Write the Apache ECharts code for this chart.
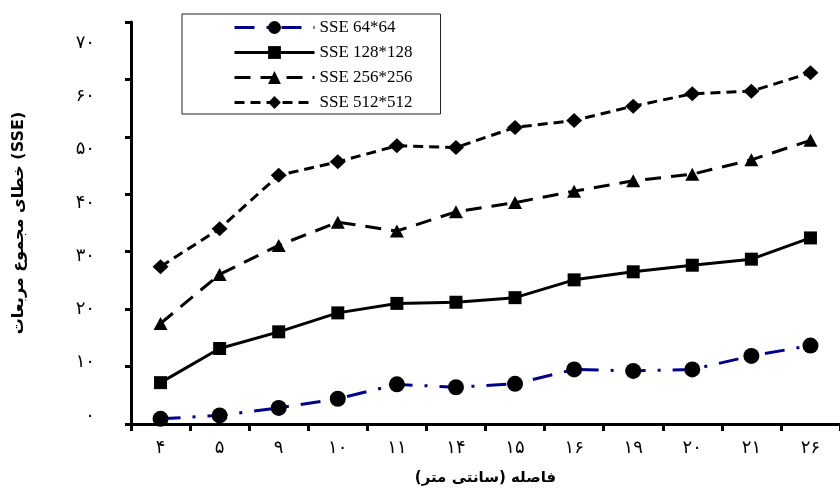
<!DOCTYPE html>
<html><head><meta charset="utf-8">
<script src="https://cdn.jsdelivr.net/npm/echarts@6/dist/echarts.min.js"></script>
<style>html,body{margin:0;padding:0;background:#fff}#c{width:840px;height:494px}</style>
</head><body><div id="c"></div>
<script>
const categories = ['۴','۵','۹','۱۰','۱۱','۱۴','۱۵','۱۶','۱۹','۲۰','۲۱','۲۶'];
const yTickLabels = ['۰','۱۰','۲۰','۳۰','۴۰','۵۰','۶۰','۷۰'];
const seriesNames = ['SSE 64*64','SSE 128*128','SSE 256*256','SSE 512*512'];
const sse64  = [0.9, 1.5, 2.8, 4.4, 6.9, 6.4, 7.0, 9.5, 9.25, 9.5, 11.85, 13.65];
const sse128 = [7.2, 13.15, 16.05, 19.35, 21.0, 21.2, 22.0, 25.1, 26.5, 27.65, 28.7, 32.4];
const sse256 = [17.5, 26.05, 31.1, 35.15, 33.6, 36.95, 38.55, 40.55, 42.35, 43.5, 46.0, 49.4];
const sse512 = [27.4, 34.0, 43.3, 45.65, 48.45, 48.15, 51.65, 52.85, 55.35, 57.5, 57.95, 61.15];
const xName = 'فاصله (سانتی متر)';
const yName = 'خطای مجموع مربعات (SSE)';

const chart = echarts.init(document.getElementById('c'), null, {renderer: 'canvas'});
const faFont = "'DejaVu Sans', sans-serif";
chart.setOption({
  animation: false,
  backgroundColor: '#fff',
  grid: [
    {left: 131, right: -9, top: 22, bottom: 70, containLabel: false},
    {left: 131, right: -9, top: 43, bottom: 78, containLabel: false}
  ],
  legend: {
    orient: 'vertical',
    left: 182, top: 14,
    padding: [5, 28, 3, 51],
    itemGap: 8,
    itemWidth: 80, itemHeight: 16,
    borderColor: '#222', borderWidth: 1,
    backgroundColor: '#fff',
    lineStyle: {width: 3},
    textStyle: {fontFamily: "'Liberation Serif', serif", fontSize: 17, color: '#000'},
    data: seriesNames
  },
  xAxis: [
    {
      type: 'category', gridIndex: 0, data: categories, boundaryGap: true,
      axisLine: {lineStyle: {color: '#000', width: 3}},
      axisTick: {show: true, length: 7, lineStyle: {color: '#000', width: 3}},
      axisLabel: {margin: 15, fontSize: 18, color: '#000', fontFamily: faFont},
      name: xName, nameLocation: 'middle', nameGap: 47,
      nameTextStyle: {fontSize: 15, fontWeight: 'bold', color: '#000', fontFamily: faFont}
    },
    {type: 'category', gridIndex: 1, data: categories, show: false}
  ],
  yAxis: [
    {
      type: 'value', gridIndex: 0, min: 0, max: 70, interval: 10,
      axisLine: {show: true, lineStyle: {color: '#000', width: 3}},
      axisTick: {show: true, length: 6, lineStyle: {color: '#000', width: 3}},
      axisLabel: {show: false},
      splitLine: {show: false},
      name: yName, nameLocation: 'middle', nameGap: 104, nameRotate: 90,
      nameTextStyle: {fontSize: 16, fontWeight: 'bold', color: '#000', fontFamily: faFont}
    },
    {
      type: 'value', gridIndex: 1, min: 0, max: 70, interval: 10,
      axisLine: {show: false}, axisTick: {show: false}, splitLine: {show: false},
      axisLabel: {
        margin: 36, fontSize: 18, color: '#000', fontFamily: faFont,
        formatter: v => yTickLabels[Math.round(v / 10)]
      }
    }
  ],
  series: [
    {
      name: seriesNames[0], type: 'line', data: sse64,
      xAxisIndex: 0, yAxisIndex: 0,
      symbol: 'circle', symbolSize: 16,
      itemStyle: {color: '#000'},
      lineStyle: {color: '#00008b', width: 3, type: [20, 12, 3, 12]},
      z: 5
    },
    {
      name: seriesNames[1], type: 'line', data: sse128,
      symbol: 'rect', symbolSize: 13,
      itemStyle: {color: '#000'},
      lineStyle: {color: '#000', width: 3, type: 'solid'}
    },
    {
      name: seriesNames[2], type: 'line', data: sse256,
      symbol: 'triangle', symbolSize: [14, 13],
      itemStyle: {color: '#000'},
      lineStyle: {color: '#000', width: 3, type: [16, 10]}
    },
    {
      name: seriesNames[3], type: 'line', data: sse512,
      symbol: 'diamond', symbolSize: [16, 15],
      itemStyle: {color: '#000'},
      lineStyle: {color: '#000', width: 3, type: [10, 6]}
    }
  ]
});
</script></body></html>
